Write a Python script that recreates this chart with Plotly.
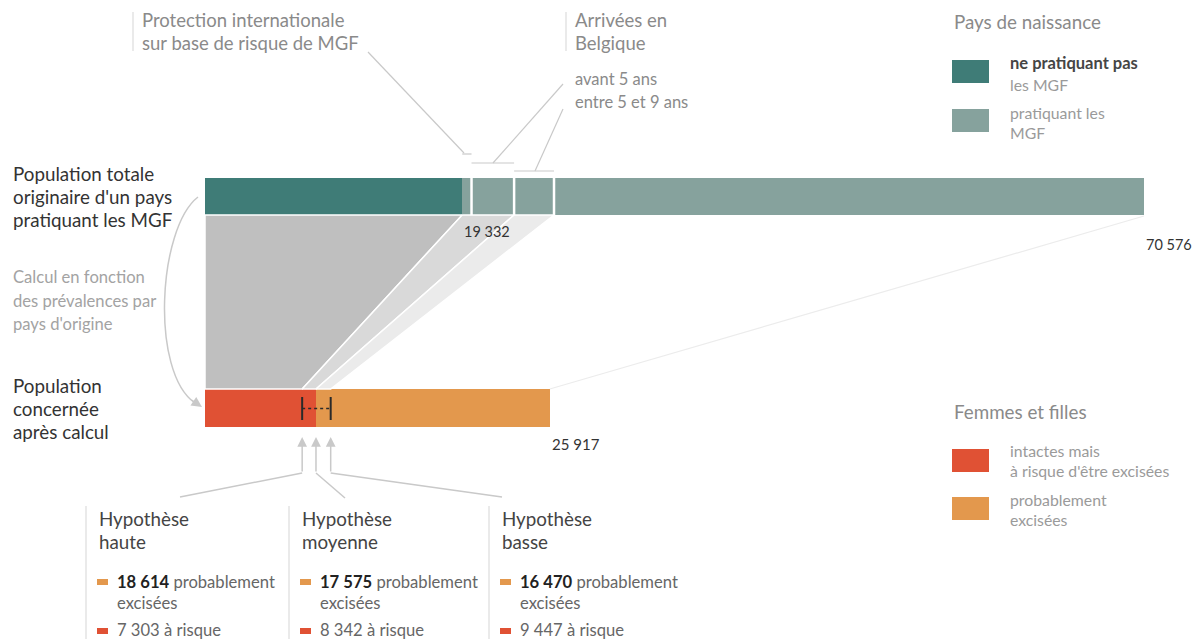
import plotly.graph_objects as go

# --- data -------------------------------------------------------------
TOTAL = 70576
top_labels = ["ne pratiquant pas", "protection internationale", "avant 5 ans", "entre 5 et 9 ans", "autres"]
top_values = [19332, 700, 3200, 3000, 44344]
top_colors = ["#3f7c77", "#86a29d", "#86a29d", "#86a29d", "#86a29d"]

bottom_labels = ["à risque", "probablement excisées"]
bottom_values = [8342, 17575]
bottom_colors = ["#e05134", "#e3984d"]
BOTTOM_TOTAL = 25917

hyp_names = ["haute", "moyenne", "basse"]
hyp_excised = [18614, 17575, 16470]
hyp_risk = [7303, 8342, 9447]

# --- layout helpers (page pixel <-> data) ------------------------------
X0, X1 = 205, 1144
K = (X1 - X0) / TOTAL
PAGE_OFF = 8  # the html body margin shifts the figure by 8px


def dx(p):
    return (p - X0) / K


def fmt(v):
    return f"{v:,}".replace(",", " ")


FONT = "Lato"
GREY = "#c9c9c9"
TOP_Y, TOP_H = 196.5, 37
BOT_Y, BOT_H = 408, 38

fig = go.Figure()

cum = [0]
for v in top_values:
    cum.append(cum[-1] + v)

# --- flows between the two bars ----------------------------------------
top_y = TOP_Y + TOP_H / 2
bot_y = BOT_Y - BOT_H / 2
flows = [
    (cum[0], cum[1], 0, hyp_risk[0], "#bfbfbf"),
    (cum[1], cum[3], hyp_risk[0], hyp_risk[1], "#d9d9d9"),
    (cum[3], cum[4], hyp_risk[1], hyp_risk[2], "#ebebeb"),
]
for a, b, c, d, col in flows:
    fig.add_trace(go.Scatter(
        x=[a, b, d, c, a], y=[top_y, top_y, bot_y, bot_y, top_y],
        fill="toself", fillcolor=col, mode="lines",
        line=dict(color="white", width=1.5), hoverinfo="skip", showlegend=False
    ))

fig.add_trace(go.Scatter(
    x=[TOTAL, BOTTOM_TOTAL], y=[top_y + 1, bot_y], mode="lines",
    line=dict(color="#ececec", width=1.2), hoverinfo="skip", showlegend=False
))

# --- bars --------------------------------------------------------------
for lab, v, base, col in zip(top_labels, top_values, cum[:-1], top_colors):
    fig.add_trace(go.Bar(
        y=[TOP_Y], x=[v], base=[base], orientation="h", width=TOP_H,
        marker=dict(color=col, line=dict(width=0)), name=lab, showlegend=False
    ))

bcum = 0
for lab, v, col in zip(bottom_labels, bottom_values, bottom_colors):
    fig.add_trace(go.Bar(
        y=[BOT_Y], x=[v], base=[bcum], orientation="h", width=BOT_H,
        marker=dict(color=col, line=dict(width=0)), name=lab, showlegend=False
    ))
    bcum += v

for b in cum[2:-1]:
    fig.add_trace(go.Scatter(
        x=[b, b], y=[TOP_Y - TOP_H / 2, TOP_Y + TOP_H / 2], mode="lines",
        line=dict(color="white", width=2.5), hoverinfo="skip", showlegend=False
    ))

# hypothesis range marker on bottom bar
for v in [hyp_risk[0], hyp_risk[2]]:
    fig.add_trace(go.Scatter(
        x=[v, v], y=[397, 420], mode="lines",
        line=dict(color="#2a2a2a", width=2), hoverinfo="skip", showlegend=False
    ))
fig.add_trace(go.Scatter(
    x=[hyp_risk[0], hyp_risk[2]], y=[408.5, 408.5], mode="lines",
    line=dict(color="#2a2a2a", width=1.3, dash="3px,3px"), hoverinfo="skip", showlegend=False
))

shapes = []
annotations = []


def line(x0, y0, x1, y1, color=GREY, width=1.2):
    shapes.append(dict(type="line", xref="x", yref="y", x0=x0, y0=y0, x1=x1, y1=y1,
                       line=dict(color=color, width=width), layer="above"))


def text(x, y, s, size=15, color="#8a8a8a", xanchor="left"):
    annotations.append(dict(x=x, y=y, xref="x", yref="y", text=s, showarrow=False,
                            xanchor=xanchor, yanchor="middle",
                            font=dict(family=FONT, size=size, color=color)))


def lines(x, ys, strs, size=15, color="#8a8a8a"):
    for y, s in zip(ys, strs):
        text(x, y, s, size, color)


# --- top leader lines --------------------------------------------------
line(dx(133), 12, dx(133), 51, "#dcdcdc", 1.2)
lines(dx(140), [20, 43], ["Protection internationale", "sur base de risque de MGF"], 18.5)
line(dx(368), 52, dx(464), 153)
line(cum[1], 154, cum[2], 154)

line(dx(566), 12, dx(566), 51, "#dcdcdc", 1.2)
lines(dx(573), [20, 43], ["Arrivées en", "Belgique"], 18.5)
lines(dx(573), [79, 102], ["avant 5 ans", "entre 5 et 9 ans"], 16.5)
line(dx(563), 84, dx(493), 163)
line(cum[2], 163, cum[3], 163)
line(dx(563), 109, dx(535), 171)
line(cum[3], 171, cum[4], 171)

# --- value labels ------------------------------------------------------
text(top_values[0], 231, fmt(top_values[0]), 14.5, "#333333")
text(TOTAL, 244, fmt(TOTAL), 14.5, "#333333")
text(BOTTOM_TOTAL, 444, fmt(BOTTOM_TOTAL), 15, "#333333")

# --- left labels -------------------------------------------------------
lines(dx(11), [173, 196, 219], ["Population totale", "originaire d'un pays", "pratiquant les MGF"], 18.8, "#333333")
lines(dx(11), [277, 301, 324], ["Calcul en fonction", "des prévalences par", "pays d'origine"], 16.6, "#a3a3a3")
lines(dx(11), [385, 408, 431], ["Population", "concernée", "après calcul"], 18.8, "#333333")

# curved arrow
shapes.append(dict(type="path", xref="x", yref="y",
                   path=f"M {dx(198)},197 C {dx(158)},228 {dx(150)},372 {dx(195)},403",
                   line=dict(color=GREY, width=1.5)))
annotations.append(dict(x=dx(202), y=407, xref="x", yref="y", ax=-12, ay=-8, text="",
                        showarrow=True, arrowhead=2, arrowsize=1.6, arrowwidth=1.3,
                        arrowcolor=GREY, standoff=0))

# --- hypothesis arrows and blocks -------------------------------------
ends = [(180, 497), (345, 498), (502, 497)]
block_x = [97, 300, 500]
for v, (ex, ey) in zip(hyp_risk, ends):
    annotations.append(dict(x=v, y=437, xref="x", yref="y", ax=0, ay=36, text="",
                            showarrow=True, arrowhead=2, arrowsize=1.3, arrowwidth=1.5,
                            arrowcolor=GREY, standoff=0))
    line(v, 473, dx(ex), ey, GREY, 1.5)

for name, exc, risk, bx in zip(hyp_names, hyp_excised, hyp_risk, block_x):
    line(dx(bx - 11), 506, dx(bx - 11), 645, "#dcdcdc", 1.2)
    lines(dx(bx), [518, 541], ["Hypothèse", name], 18.8, "#444444")
    shapes.append(dict(type="rect", xref="x", yref="y", x0=dx(bx), x1=dx(bx + 11), y0=579, y1=585,
                       fillcolor=bottom_colors[1], line=dict(width=0)))
    shapes.append(dict(type="rect", xref="x", yref="y", x0=dx(bx), x1=dx(bx + 11), y0=628, y1=634,
                       fillcolor=bottom_colors[0], line=dict(width=0)))
    lines(dx(bx + 18), [582, 603, 630],
          [f"<b><span style='color:#222'>{fmt(exc)}</span></b> probablement", "excisées",
           f"{fmt(risk)} à risque"], 16.6, "#666666")

# --- legends -----------------------------------------------------------
text(dx(952), 21, "Pays de naissance", 18.8)
shapes.append(dict(type="rect", xref="x", yref="y", x0=dx(952), x1=dx(989), y0=60, y1=83,
                   fillcolor=top_colors[0], line=dict(width=0)))
shapes.append(dict(type="rect", xref="x", yref="y", x0=dx(952), x1=dx(989), y0=109, y1=132,
                   fillcolor=top_colors[1], line=dict(width=0)))
text(dx(1008), 63, "<b>ne pratiquant pas</b>", 16.5, "#454545")
text(dx(1008), 84, "les MGF", 15.8, "#9a9a9a")
lines(dx(1008), [112, 132], ["pratiquant les", "MGF"], 15.8, "#9a9a9a")

text(dx(952), 411, "Femmes et filles", 18.8)
shapes.append(dict(type="rect", xref="x", yref="y", x0=dx(952), x1=dx(989), y0=449, y1=472,
                   fillcolor=bottom_colors[0], line=dict(width=0)))
shapes.append(dict(type="rect", xref="x", yref="y", x0=dx(952), x1=dx(989), y0=497, y1=520,
                   fillcolor=bottom_colors[1], line=dict(width=0)))
lines(dx(1008), [450, 470], ["intactes mais", "à risque d'être excisées"], 15.8, "#9a9a9a")
lines(dx(1008), [499, 519], ["probablement", "excisées"], 15.8, "#9a9a9a")

fig.update_layout(
    width=1200, height=639,
    margin=dict(l=0, r=0, t=0, b=0),
    paper_bgcolor="white", plot_bgcolor="white",
    barmode="overlay", bargap=0,
    xaxis=dict(range=[dx(PAGE_OFF), dx(1200 + PAGE_OFF)], visible=False, fixedrange=True),
    yaxis=dict(range=[639 + PAGE_OFF, PAGE_OFF], visible=False, fixedrange=True),
    shapes=shapes, annotations=annotations,
    showlegend=False,
    font=dict(family=FONT),
)

fig.write_html("out.html")
